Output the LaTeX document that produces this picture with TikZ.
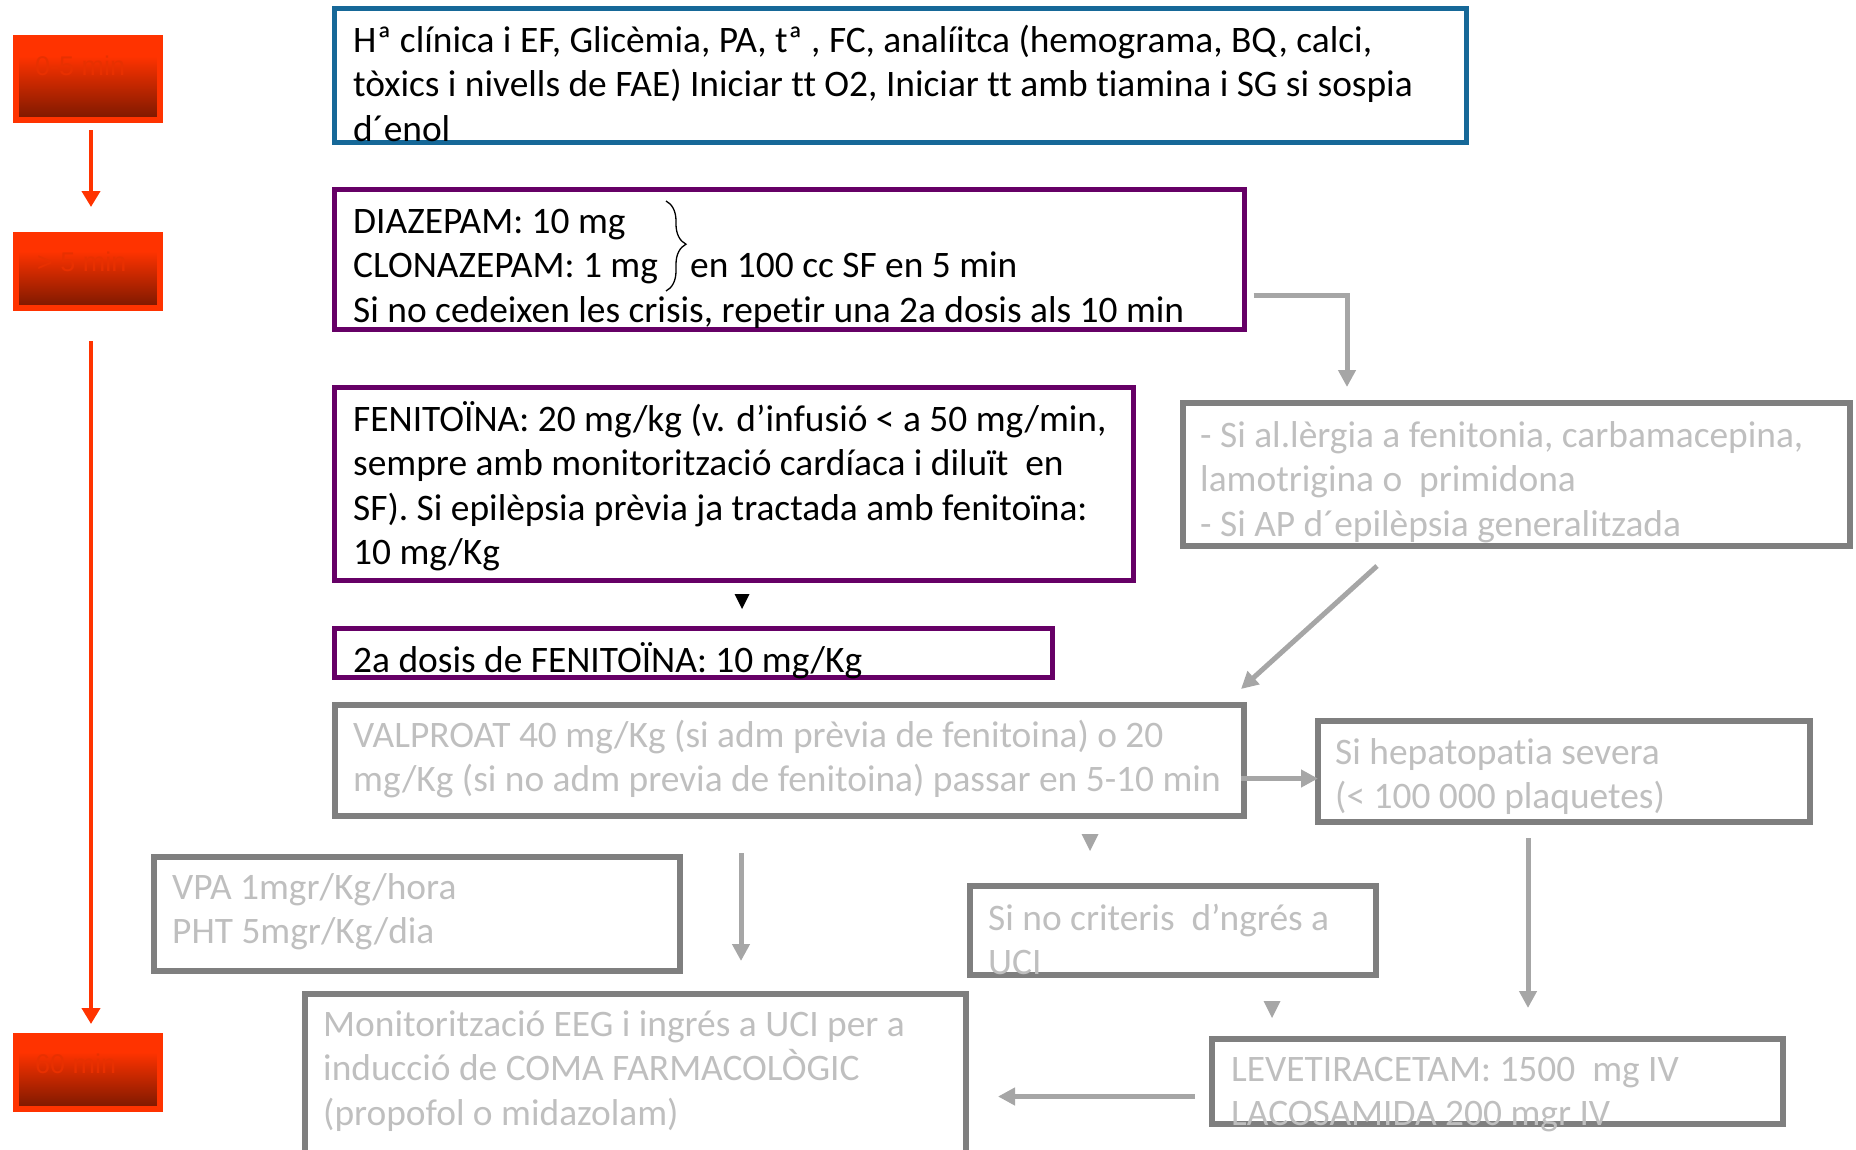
\documentclass[tikz,border=0pt]{standalone}
\usepackage{fontspec}
\setmainfont{Carlito}[Ligatures=NoCommon]
\newfontfamily\arialf{Liberation Sans}
\usetikzlibrary{arrows.meta,calc,decorations.pathreplacing}
\definecolor{topblue}{RGB}{22,104,152}
\definecolor{purp}{RGB}{102,0,102}
\definecolor{gborder}{RGB}{127,127,127}
\definecolor{gtext}{RGB}{191,191,191}
\definecolor{garr}{RGB}{166,166,166}
\definecolor{torange}{RGB}{255,51,0}
\definecolor{tdark}{RGB}{122,24,0}
\definecolor{ttext}{RGB}{232,48,0}
\pgfdeclareverticalshading{tgrad}{100bp}{color(0bp)=(tdark); color(25bp)=(tdark); color(64bp)=(torange); color(100bp)=(torange)}
\tikzset{
  boxbase/.style={rectangle, inner sep=0pt, outer sep=0pt, anchor=north west},
  bluebox/.style={boxbase, draw=topblue, line width=5.5pt},
  purpbox/.style={boxbase, draw=purp, line width=5.5pt},
  graybox/.style={boxbase, draw=gborder, line width=6pt},
  timebox/.style={boxbase, draw=torange, line width=6pt, shading=tgrad},
  txt/.style={anchor=base west, inner sep=0pt, align=left, font=\fontsize{37.4}{44.5}\selectfont},
  gtxt/.style={txt, text=gtext},
  ttxt/.style={anchor=base west, inner sep=0pt, text=ttext, font=\arialf\fontsize{27}{32}\selectfont},
  rarrow/.style={draw=torange, line width=4pt, -{Triangle[length=16pt,width=18pt]}},
  garrow/.style={draw=garr, line width=5pt, -{Triangle[length=17pt,width=17pt]}},
}
\begin{document}
\begin{tikzpicture}[x=1pt,y=-1pt]
\useasboundingbox (0,0) rectangle (1856,1149);
% time boxes
\node[timebox, minimum width=144pt, minimum height=82pt] (t1) at (16,38) {};
\node[timebox, minimum width=144pt, minimum height=73pt] (t2) at (16,235) {};
\node[timebox, minimum width=144pt, minimum height=73pt] (t3) at (16,1036) {};
\node[ttxt] (t1l) at (35,75) {0-5 min};
\node[ttxt] (t2l) at (37,271) {> 5 min};
\node[ttxt] (t3l) at (35,1073) {60 min};
\draw[rarrow] ($(t1.south)+(3,10)$) -- ($(t2.north)+(3,-28)$);
\draw[rarrow] ($(t2.south)+(3,33)$) -- ($(t3.north)+(3,-12)$);
% boxes
\node[bluebox, minimum width=1132pt, minimum height=134pt] (top) at (334.5,8.5) {};
\node[purpbox, minimum width=910pt, minimum height=140pt] (dia) at (334.5,189.5) {};
\node[purpbox, minimum width=799pt, minimum height=193pt] (fen) at (334.5,387.5) {};
\node[purpbox, minimum width=718pt, minimum height=49pt] (dos) at (334.5,628.5) {};
\node[graybox, minimum width=667pt, minimum height=143pt] (alg) at (1183,403) {};
\node[graybox, minimum width=909pt, minimum height=111pt] (val) at (335,705) {};
\node[graybox, minimum width=492pt, minimum height=101pt] (hep) at (1318,721) {};
\node[graybox, minimum width=526pt, minimum height=114pt] (vpa) at (154,857) {};
\node[graybox, minimum width=406pt, minimum height=89pt] (crit) at (970,886) {};
\node[graybox, minimum width=661pt, minimum height=160pt] (mon) at (305,994) {};
\node[graybox, minimum width=571pt, minimum height=85pt] (lev) at (1212,1039) {};
% texts (anchor = baseline of the last line)
\node[txt] (toptx) at (353,141) {Hª clínica i EF, Glicèmia, PA, tª , FC, analíitca (hemograma, BQ, calci,\\tòxics i nivells de FAE) Iniciar tt O2, Iniciar tt amb tiamina i SG si sospia\\d´enol};
\node[txt] (diatx) at (353,322) {DIAZEPAM: 10 mg\\CLONAZEPAM: 1 mg\\Si no cedeixen les crisis, repetir una 2a dosis als 10 min};
\node[txt] (diatx2) at (690,277.5) {en 100 cc SF en 5 min};
\draw[line width=1.3pt, decorate, decoration={brace, amplitude=20pt, aspect=0.48}] (666,201) -- (666,291);
\node[txt] (fentx) at (353,564.5) {FENITOÏNA: 20 mg/kg (v. d’infusió < a 50 mg/min,\\sempre amb monitorització cardíaca i diluït\ \ en\\SF). Si epilèpsia prèvia ja tractada amb fenitoïna:\\10 mg/Kg};
\node[txt] (dostx) at (353,672) {2a dosis de FENITOÏNA: 10 mg/Kg};
\node[gtxt] (algtx) at (1200,536) {- Si al.lèrgia a fenitonia, carbamacepina,\\lamotrigina o\ \ primidona\\- Si AP d´epilèpsia generalitzada};
\node[gtxt] (valtx) at (353,791.5) {VALPROAT 40 mg/Kg (si adm prèvia de fenitoina) o 20\\mg/Kg (si no adm previa de fenitoina) passar en 5-10 min};
\node[gtxt] (heptx) at (1335,808.5) {Si hepatopatia severa\\(< 100 000 plaquetes)};
\node[gtxt] (vpatx) at (172,943.5) {VPA 1mgr/Kg/hora\\PHT 5mgr/Kg/dia};
\node[gtxt] (crittx) at (988,974.5) {Si no criteris\ \ d’ngrés a\\UCI};
\node[gtxt] (montx) at (323,1125) {Monitorització EEG i ingrés a UCI per a\\inducció de COMA FARMACOLÒGIC\\(propofol o midazolam)};
\node[gtxt] (levtx) at (1231,1125.5) {LEVETIRACETAM: 1500\ \ mg IV\\LACOSAMIDA 200 mgr IV};
% connectors
\draw[garrow, shorten >=16pt] ($(dia.east)+(9,36)$) -| ($(alg.north west)+(164,0)$);
\draw[garrow] ($(alg.south west)+(194,20)$) -- ($(val.north east)+(-3,-16)$);
\draw[garrow] ($(val.east)+(-3,18)$) coordinate (vs) -- (vs -| hep.west);
\draw[garrow, shorten >=31pt] ($(hep.south west)+(210,16)$) coordinate (hs) -- (hs |- lev.north);
\draw[garrow, shorten >=33pt] ($(val.south west)+(406,37)$) coordinate (ds) -- (ds |- mon.north);
\draw[garrow] ($(lev.west)+(-17,15)$) coordinate (ls) -- ($(ls -| mon.east)+(32,0)$);
% stub arrowheads
\fill[black] ($(fen.south west)+(400,13.5)$) -- ++(15,0) -- ++(-7.5,15) -- cycle;
\fill[garr] ($(val.south west)+(746.5,18)$) -- ++(17,0) -- ++(-8.5,17) -- cycle;
\fill[garr] ($(crit.south west)+(293.5,26)$) -- ++(17,0) -- ++(-8.5,17) -- cycle;
\end{tikzpicture}
\end{document}
